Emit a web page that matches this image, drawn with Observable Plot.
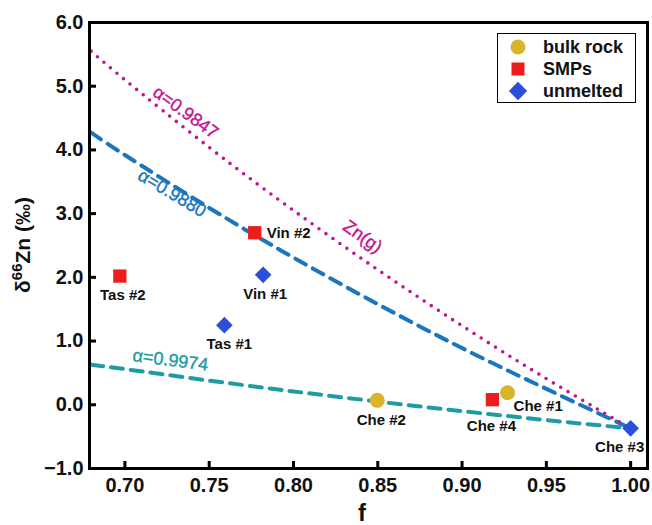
<!DOCTYPE html>
<html><head><meta charset="utf-8">
<script src="https://cdn.jsdelivr.net/npm/d3@7"></script>
<script src="https://cdn.jsdelivr.net/npm/@observablehq/plot@0.6"></script>
<style>
body{margin:0;background:#fff;font-family:"Liberation Sans",Arial,sans-serif;}
#wrap{position:relative;width:652px;height:525px;}
.legend{position:absolute;left:497px;top:33px;width:139px;height:70px;border:1.5px solid #000;background:#fff;box-sizing:border-box;padding-top:2px;}
.legend .row{display:flex;align-items:center;height:22px;font-weight:bold;font-size:18px;color:#111;}
.legend svg{width:22px;height:22px;margin-left:9px;margin-right:14px;}
</style></head><body><div id="wrap"></div><script>
// ---- data ----
const fGrid = [0.68, 0.70, 0.75, 0.80, 0.85, 0.90, 0.95, 1.00];
const curve9847 = [5.55, 5.10, 4.04, 3.05, 2.12, 1.24, 0.41, -0.37];
const curve9880 = [4.27, 3.92, 3.09, 2.31, 1.58, 0.89, 0.25, -0.37];
const curve9974 = [0.63, 0.56, 0.38, 0.21, 0.05, -0.10, -0.24, -0.37];

const sampleNames = ["Che #2", "Che #1", "Tas #2", "Vin #2", "Che #4", "Tas #1", "Vin #1", "Che #3"];
const sampleTypes = ["bulk rock", "bulk rock", "SMPs", "SMPs", "SMPs", "unmelted", "unmelted", "unmelted"];
const sampleF = [0.8497, 0.927, 0.697, 0.777, 0.918, 0.759, 0.782, 1.000];
const sampleD = [0.07, 0.19, 2.02, 2.70, 0.08, 1.25, 2.04, -0.37];

const typeNames = ["bulk rock", "SMPs", "unmelted"];
const xTicks = [0.70, 0.75, 0.80, 0.85, 0.90, 0.95, 1.00];
const yTicks = [-1, 0, 1, 2, 3, 4, 5, 6];

const curveLabelText = ["α=0.9847", "α=0.9880", "Zn(g)", "α=0.9974"];
const curveLabelF = [0.736, 0.728, 0.841, 0.727];
const curveLabelD = [4.59, 3.32, 2.64, 0.70];

// ---- styles ----
const typeColors = ["#DAB52A", "#EE1D1D", "#2B4FD9"];
const typeSymbols = ["circle", "square", "diamond2"];
const curveColors = {"9847": "#C0168F", "9880": "#1B76BD", "9974": "#1E9CA3"};
const curveLabelColors = ["#C0168F", "#1B76BD", "#C0168F", "#1E9CA3"];
const curveLabelRotate = [36, 31, 35, 7.5];
const labelOffsets = {
  "Che #2": [4, 20, "middle"], "Che #1": [6, 14, "start"], "Tas #2": [3, 19, "middle"],
  "Vin #2": [12, 0, "start"], "Che #4": [-1, 26, "middle"], "Tas #1": [5, 19, "middle"],
  "Vin #1": [2, 19, "middle"], "Che #3": [-11, 19, "middle"]
};

const curveRows = (vals) => fGrid.map((f, i) => ({f, d: vals[i]}));
const samples = sampleNames.map((n, i) => ({name: n, type: sampleTypes[i], f: sampleF[i], d: sampleD[i]}));
const curveLabels = curveLabelText.map((t, i) => ({t, f: curveLabelF[i], d: curveLabelD[i], c: curveLabelColors[i], r: curveLabelRotate[i]}));

const font = "'Liberation Sans', Arial, sans-serif";

const marks = [
  Plot.line(curveRows(curve9974), {x: "f", y: "d", curve: "natural", stroke: curveColors["9974"], strokeWidth: 4, strokeDasharray: "12,8", clip: true}),
  Plot.line(curveRows(curve9880), {x: "f", y: "d", curve: "natural", stroke: curveColors["9880"], strokeWidth: 4, strokeDasharray: "12,8", clip: true}),
  Plot.line(curveRows(curve9847), {x: "f", y: "d", curve: "natural", stroke: curveColors["9847"], strokeWidth: 3.6, strokeDasharray: "0,8.5", strokeLinecap: "round", clip: true}),
  ...curveLabels.map(l => Plot.text([l], {x: "f", y: "d", text: "t", fill: l.c, stroke: l.c, strokeWidth: 0.4, rotate: l.r, fontSize: 18, fontFamily: font})),
  Plot.dot(samples, {x: "f", y: "d", symbol: "type", fill: "type", r: 7.5, stroke: null}),
  ...samples.map(s => {
    const [dx, dy, anchor] = labelOffsets[s.name];
    return Plot.text([s], {x: "f", y: "d", text: "name", dx, dy, textAnchor: anchor, fontSize: 15, fontWeight: "bold", fill: "#111", fontFamily: font});
  }),
  Plot.axisX(xTicks, {tickSize: -7, strokeWidth: 3, tickFormat: () => "", label: null}),
  Plot.axisX(xTicks, {tickSize: 0, tickPadding: 9, tickFormat: d3.format(".2f"), fontSize: 20, fontWeight: "bold", fill: "#111", label: null}),
  Plot.axisY(yTicks, {tickSize: -7, strokeWidth: 3, tickFormat: () => "", label: null}),
  Plot.axisY(yTicks, {tickSize: 0, tickPadding: 6, tickFormat: d3.format(".1f"), fontSize: 20, fontWeight: "bold", fill: "#111", label: null}),
  Plot.frame({stroke: "#000", strokeWidth: 3})
];

const chart = Plot.plot({
  width: 652, height: 525,
  marginLeft: 89, marginRight: 5, marginTop: 22, marginBottom: 57,
  style: {fontFamily: font, background: "#fff", overflow: "visible"},
  x: {domain: [0.679, 1.01]},
  y: {domain: [-1, 6]},
  color: {domain: typeNames, range: typeColors},
  symbol: {domain: typeNames, range: typeSymbols},
  marks
});

const svg = d3.select(chart);
// y axis title
const yt = svg.append("text")
  .attr("transform", "translate(30,245) rotate(-90)")
  .attr("text-anchor", "middle")
  .attr("font-family", font).attr("font-weight", "bold").attr("font-size", 21).attr("fill", "#111");
yt.append("tspan").text("δ");
yt.append("tspan").attr("dy", -8).attr("font-size", 15).text("66");
yt.append("tspan").attr("dy", 8).text("Zn (‰)");
// x axis title
svg.append("text").attr("x", 362).attr("y", 521)
  .attr("text-anchor", "middle").attr("font-family", font).attr("font-weight", "bold")
  .attr("font-size", 24).attr("fill", "#111").text("f");

const wrap = document.getElementById("wrap");
wrap.appendChild(chart);

// legend
const legend = document.createElement("div");
legend.className = "legend";
const symPaths = {
  circle: '<circle cx="11" cy="11" r="7.5"/>',
  square: '<rect x="4.5" y="4.5" width="13" height="13"/>',
  diamond2: '<path d="M11,1.8L20.2,11L11,20.2L1.8,11Z"/>'
};
typeNames.forEach((t, i) => {
  const row = document.createElement("div");
  row.className = "row";
  row.innerHTML = `<svg viewBox="0 0 22 22"><g fill="${typeColors[i]}">${symPaths[typeSymbols[i]]}</g></svg><span>${t}</span>`;
  legend.appendChild(row);
});
wrap.appendChild(legend);
</script></body></html>
